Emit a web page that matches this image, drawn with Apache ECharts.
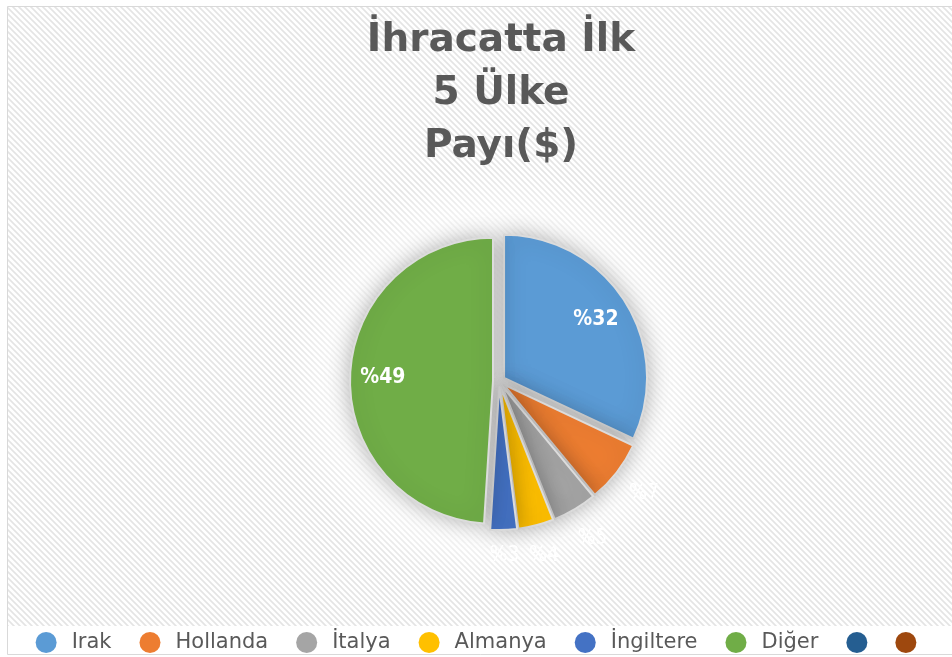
<!DOCTYPE html>
<html>
<head>
<meta charset="utf-8">
<script src="https://cdn.jsdelivr.net/npm/echarts@6/dist/echarts.min.js"></script>
<style>
  html, body { margin: 0; padding: 0; background: #fff; }
  #main { width: 952px; height: 657px; }
</style>
</head>
<body>
<div id="main"></div>
<script>
// veriler
const countries = ['Irak', 'Hollanda', 'İtalya', 'Almanya', 'İngiltere', 'Diğer', 'Seri7', 'Seri8'];
const shares = [32, 7, 5, 4, 3, 49, 0, 0];
const colors = ['#5B9BD5', '#ED7D31', '#A5A5A5', '#FFC000', '#4472C4', '#70AD47', '#255E91', '#9E480E'];
const blankNames = ['Seri7', 'Seri8'];
// etiketin yarıçapa oranı (içeride / dışarıda)
const labelRadius = [0.74, 1.22, 1.22, 1.2, 1.16, 0.75, 1, 1];

const R = 143;
const fontFam = '"DejaVu Sans", sans-serif';
const fontCond = '"DejaVu Sans Condensed", "DejaVu Sans", sans-serif';

// çizgili arka plan
function hatch () {
  const c = document.createElement('canvas');
  c.width = 6; c.height = 6;
  const ctx = c.getContext('2d');
  ctx.fillStyle = '#ffffff';
  ctx.fillRect(0, 0, 6, 6);
  ctx.strokeStyle = '#e4e4e4';
  ctx.lineWidth = 1.6;
  ctx.beginPath();
  ctx.moveTo(-6, -6); ctx.lineTo(12, 12);
  ctx.moveTo(-6, 0); ctx.lineTo(6, 12);
  ctx.moveTo(0, -6); ctx.lineTo(12, 6);
  ctx.stroke();
  return c;
}

const total = shares.reduce((a, b) => a + b, 0);
const midAngle = [];
let acc = 0;
shares.forEach(v => {
  midAngle.push((acc + v / 2) / total * Math.PI * 2);
  acc += v;
});

const pieData = countries.map((name, i) => {
  const blank = blankNames.includes(name);
  return {
    name: name,
    value: shares[i],
    selected: !blank,
    itemStyle: blank ? { borderWidth: 0, shadowBlur: 0 } : {},
    label: {
      show: !blank,
      fontWeight: (i === 0 || i === 5) ? 'bold' : 'normal'
    }
  };
});

const myChart = echarts.init(document.getElementById('main'));
myChart.setOption({
  backgroundColor: '#ffffff',
  color: colors,
  title: {
    text: 'İhracatta İlk\n5 Ülke\nPayı($)',
    left: 496,
    textAlign: 'center',
    top: 9,
    textStyle: {
      fontFamily: fontFam,
      fontSize: 39,
      fontWeight: 'bold',
      color: '#595959',
      lineHeight: 53
    }
  },
  graphic: [
    {
      type: 'rect', z: -20, silent: true,
      shape: { x: 7.5, y: 6.5, width: 950, height: 648 },
      style: { fill: '#ffffff', stroke: '#d9d9d9', lineWidth: 1 }
    },
    {
      type: 'rect', z: -19, silent: true,
      shape: { x: 8, y: 7, width: 944, height: 619 },
      style: { fill: { image: hatch(), repeat: 'repeat' } }
    },
    {
      type: 'circle', z: -18, silent: true,
      shape: { cx: 499, cy: 381, r: 215 },
      style: {
        fill: new echarts.graphic.RadialGradient(0.5, 0.5, 0.5, [
          { offset: 0, color: 'rgba(255,255,255,1)' },
          { offset: 0.6, color: 'rgba(255,255,255,0.9)' },
          { offset: 1, color: 'rgba(255,255,255,0)' }
        ])
      }
    }
  ],
  legend: {
    data: countries,
    left: 'center',
    top: 627,
    icon: 'circle',
    itemWidth: 21,
    itemHeight: 21,
    itemGap: 28,
    itemStyle: { borderWidth: 0, shadowBlur: 0 },
    formatter: function (name) {
      return blankNames.includes(name) ? '' : name;
    },
    textStyle: {
      fontFamily: fontFam,
      fontSize: 21,
      color: '#595959',
      padding: [0, 0, 0, 10]
    },
    selectedMode: false
  },
  series: [
    {
      type: 'pie',
      center: [499, 381],
      radius: [0, R],
      startAngle: 90,
      clockwise: true,
      selectedMode: 'multiple',
      selectedOffset: 6,
      avoidLabelOverlap: false,
      silent: true,
      itemStyle: {
        borderColor: '#dcdcdc',
        borderWidth: 2,
        shadowBlur: 22,
        shadowColor: 'rgba(0,0,0,0.3)'
      },
      select: { itemStyle: { borderColor: '#dcdcdc', borderWidth: 2 } },
      label: {
        position: 'inside',
        formatter: '%{c}',
        color: '#ffffff',
        fontFamily: fontCond,
        fontSize: 21
      },
      labelLine: { show: false },
      labelLayout: function (p) {
        const i = p.dataIndex;
        const d = (labelRadius[i] - 0.5) * R;
        return {
          dx: d * Math.sin(midAngle[i]),
          dy: -d * Math.cos(midAngle[i])
        };
      },
      data: pieData
    }
  ]
});
</script>
</body>
</html>
